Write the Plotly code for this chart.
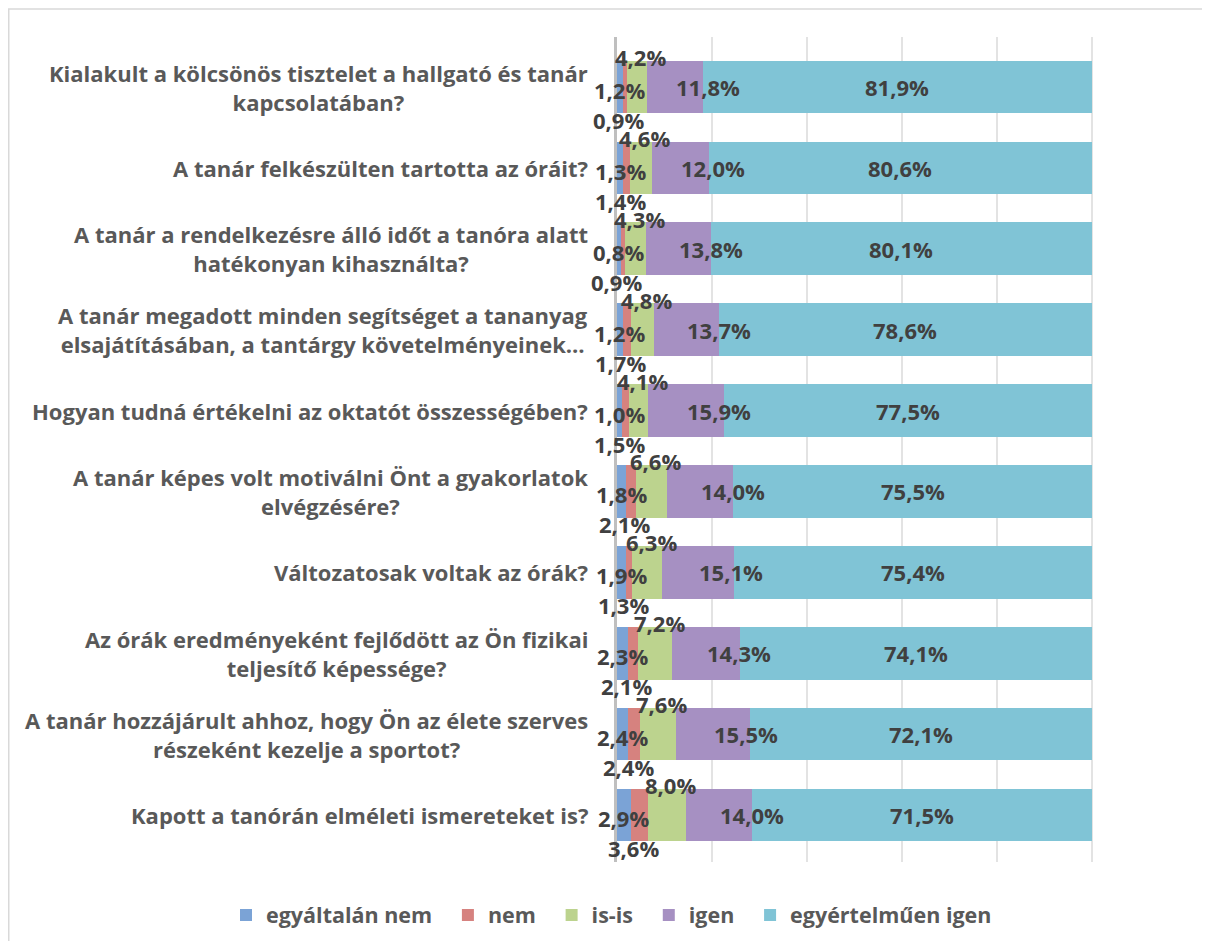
import plotly.graph_objects as go

# Survey questions, top to bottom
questions = [
    "Kialakult a kölcsönös tisztelet a hallgató és tanár<br>kapcsolatában?",
    "A tanár felkészülten tartotta az óráit?",
    "A tanár a rendelkezésre álló időt a tanóra alatt<br>hatékonyan kihasználta?",
    "A tanár megadott minden segítséget a tananyag<br>elsajátításában, a tantárgy követelményeinek…",
    "Hogyan tudná értékelni az oktatót összességében?",
    "A tanár képes volt motiválni Önt a gyakorlatok<br>elvégzésére?",
    "Változatosak voltak az órák?",
    "Az órák eredményeként fejlődött az Ön fizikai<br>teljesítő képessége?",
    "A tanár hozzájárult ahhoz, hogy Ön az élete szerves<br>részeként kezelje a sportot?",
    "Kapott a tanórán elméleti ismereteket is?",
]

# Answer shares in percent
egyaltalan_nem = [1.2, 1.3, 0.8, 1.2, 1.0, 1.8, 1.9, 2.3, 2.4, 2.9]
nem = [0.9, 1.4, 0.9, 1.7, 1.5, 2.1, 1.3, 2.1, 2.4, 3.6]
is_is = [4.2, 4.6, 4.3, 4.8, 4.1, 6.6, 6.3, 7.2, 7.6, 8.0]
igen = [11.8, 12.0, 13.8, 13.7, 15.9, 14.0, 15.1, 14.3, 15.5, 14.0]
egyertelmuen_igen = [81.9, 80.6, 80.1, 78.6, 77.5, 75.5, 75.4, 74.1, 72.1, 71.5]

series_names = ["egyáltalán nem", "nem", "is-is", "igen", "egyértelműen igen"]
series_values = [egyaltalan_nem, nem, is_is, igen, egyertelmuen_igen]
colors = ["#7BA3D6", "#D6827F", "#BCD38E", "#A690C2", "#80C4D6"]

# label offsets per series (xshift, yshift) - mimics the Excel label placement
label_shift = [(0, -3), (-6, -33), (4, 30), (33, 0), (0, 0)]

FONT = "Open Sans"
ids = list(range(len(questions)))

# the page body adds an 8px margin, so the figure is drawn 16px smaller
W, H = 1194, 933
L, R, T, B = 609, 15, 29, 79
pw, ph = W - L - R, H - T - B

fig = go.Figure()
for name, vals, col in zip(series_names, series_values, colors):
    fig.add_trace(go.Bar(
        y=ids, x=vals, name=name + "\u2002", orientation="h",
        marker=dict(color=col, line=dict(width=0)),
        hoverinfo="x+name",
    ))

annotations = []
for i in ids:
    base = 0.0
    for s, vals in enumerate(series_values):
        v = vals[i]
        dx, dy = label_shift[s]
        annotations.append(dict(
            x=base + v / 2, y=i, xref="x", yref="y",
            text=f"{v:.1f}".replace(".", ",") + "%",
            showarrow=False, xanchor="center", yanchor="middle",
            xshift=dx, yshift=dy,
            font=dict(family=FONT, size=22, color="#404040", weight="bold"),
        ))
        base += v
    # question labels, centred lines like Excel wrapping
    annotations.append(dict(
        x=0, y=i, xref="paper", yref="y", text=questions[i],
        showarrow=False, xanchor="right", yanchor="middle", align="center",
        xshift=-27,
        font=dict(family=FONT, size=22, color="#595959", weight="bold"),
    ))

fig.update_layout(
    width=W, height=H,
    margin=dict(l=L, r=R, t=T, b=B, autoexpand=False),
    barmode="stack", bargap=0.35,
    paper_bgcolor="white", plot_bgcolor="white",
    xaxis=dict(range=[0, 120], dtick=20, showticklabels=False,
               showgrid=True, gridcolor="#E3E3E3", gridwidth=2,
               zeroline=False, fixedrange=True),
    yaxis=dict(autorange="reversed", showticklabels=False, showgrid=False,
               showline=True, linecolor="#BFBFBF", linewidth=3,
               zeroline=False, fixedrange=True),
    showlegend=True,
    legend=dict(orientation="h", xref="paper", yref="paper",
                x=(226 - 8 - L) / pw, y=(T + ph - (915 - 8)) / ph,
                xanchor="left", yanchor="middle",
                font=dict(family=FONT, size=21.5, color="#595959", weight="bold"),
                itemwidth=30, traceorder="normal"),
    annotations=annotations,
    shapes=[dict(type="rect", xref="paper", yref="paper",
                 x0=(0.75 - L) / pw, x1=(1240 - L) / pw,
                 y0=(T + ph - 950) / ph, y1=(T + ph - 1) / ph,
                 line=dict(color="#D9D9D9", width=1.5), layer="below")],
)

fig.write_html("out.html")
